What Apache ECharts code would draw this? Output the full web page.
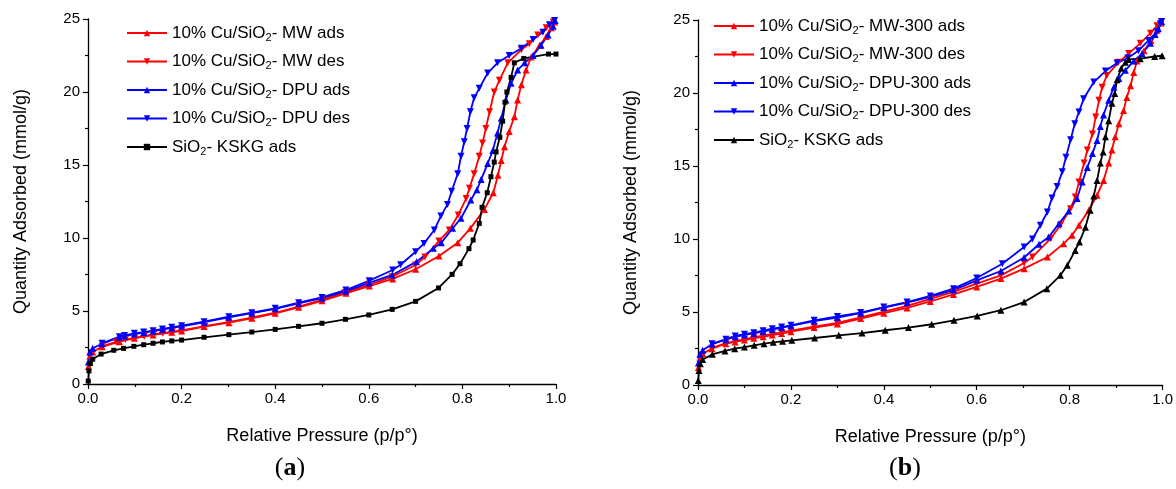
<!DOCTYPE html>
<html>
<head>
<meta charset="utf-8">
<script src="https://cdn.jsdelivr.net/npm/echarts@6/dist/echarts.min.js"></script>
<style>
  html, body { margin: 0; padding: 0; background: #fff; }
  #chart { width: 1176px; height: 489px; }
</style>
</head>
<body>
<div id="chart"></div>
<script>
// 坐标轴刻度
const xTicks = [0, 0.2, 0.4, 0.6, 0.8, 1.0]
const yTicks = [0, 5, 10, 15, 20, 25]

// (a) 图数据 [p/p°, mmol/g]
const mwAdsA = [[0.001,1.2],[0.004,1.9],[0.01,2.2],[0.03,2.55],[0.067,2.9],[0.099,3.13],[0.139,3.36],[0.179,3.54],[0.2,3.63],[0.248,3.93],[0.301,4.2],[0.35,4.5],[0.4,4.84],[0.45,5.25],[0.5,5.7],[0.551,6.21],[0.601,6.71],[0.651,7.2],[0.70,7.86],[0.75,8.77],[0.79,9.68],[0.817,10.66],[0.847,11.96],[0.866,13.1],[0.876,14.3],[0.883,15.3],[0.89,16.25],[0.9,17.3],[0.911,18.3],[0.918,19.45],[0.926,20.5],[0.936,21.5],[0.947,22.4],[0.965,23.2],[0.979,23.8],[0.99,24.4],[0.997,24.8]]
const mwDesA = [[0.994,24.8],[0.979,24.4],[0.961,23.9],[0.943,23.3],[0.926,22.9],[0.897,22.0],[0.879,20.8],[0.868,20.0],[0.858,18.65],[0.85,17.5],[0.843,16.5],[0.836,15.6],[0.825,14.4],[0.815,13.4],[0.808,12.7],[0.791,11.58],[0.772,10.55],[0.75,9.8],[0.72,8.7],[0.70,8.15],[0.65,7.35],[0.6,6.78],[0.55,6.27],[0.5,5.76],[0.45,5.3],[0.4,4.88],[0.35,4.54],[0.3,4.24],[0.25,3.96],[0.2,3.67],[0.18,3.58],[0.16,3.48],[0.14,3.39],[0.12,3.27],[0.1,3.16],[0.08,3.04],[0.06,2.88],[0.03,2.58]]
const dpuAdsA = [[0.001,1.5],[0.004,2.2],[0.01,2.45],[0.03,2.75],[0.067,3.2],[0.078,3.28],[0.099,3.42],[0.119,3.52],[0.139,3.62],[0.159,3.73],[0.179,3.84],[0.2,3.95],[0.248,4.23],[0.301,4.57],[0.35,4.85],[0.4,5.15],[0.45,5.52],[0.5,5.88],[0.551,6.36],[0.601,6.92],[0.65,7.47],[0.702,8.38],[0.738,9.29],[0.755,9.68],[0.779,10.66],[0.797,11.35],[0.818,12.6],[0.831,13.3],[0.84,14.0],[0.854,15.1],[0.865,16.0],[0.875,17.2],[0.883,18.2],[0.893,19.45],[0.904,20.6],[0.918,21.5],[0.933,22.0],[0.951,22.5],[0.968,23.2],[0.983,23.9],[0.994,24.5],[0.998,24.9]]
const dpuDesA = [[0.997,24.9],[0.986,24.6],[0.972,24.1],[0.951,23.6],[0.926,23.0],[0.9,22.5],[0.875,22.0],[0.854,21.3],[0.836,20.25],[0.825,19.6],[0.817,18.65],[0.81,17.5],[0.804,16.6],[0.797,15.6],[0.79,14.4],[0.777,13.2],[0.768,12.3],[0.754,11.5],[0.74,10.55],[0.718,9.63],[0.70,9.06],[0.668,8.17],[0.651,7.81],[0.601,7.08],[0.551,6.44],[0.5,5.93],[0.45,5.57],[0.4,5.18],[0.35,4.88],[0.301,4.61],[0.248,4.27],[0.2,3.99],[0.179,3.88],[0.159,3.77],[0.139,3.65],[0.119,3.56],[0.099,3.47],[0.078,3.33],[0.067,3.24],[0.03,2.79]]
const kskgA = [[0.0005,0.2],[0.002,0.9],[0.005,1.4],[0.01,1.7],[0.028,2.05],[0.055,2.31],[0.076,2.44],[0.098,2.58],[0.119,2.69],[0.139,2.79],[0.159,2.88],[0.179,2.95],[0.2,3.01],[0.248,3.2],[0.301,3.38],[0.35,3.56],[0.4,3.74],[0.45,3.95],[0.5,4.16],[0.55,4.43],[0.6,4.73],[0.65,5.11],[0.7,5.66],[0.749,6.58],[0.778,7.51],[0.795,8.24],[0.814,9.27],[0.823,9.86],[0.836,11.0],[0.842,12.1],[0.853,13.1],[0.861,14.2],[0.868,15.2],[0.872,15.9],[0.88,16.9],[0.886,18.0],[0.891,19.3],[0.895,20.0],[0.904,21.0],[0.911,22.0],[0.931,22.3],[0.984,22.6],[1.0,22.6]]

// (b) 图数据
const mwAdsB = [[0.001,1.2],[0.004,1.85],[0.01,2.15],[0.03,2.49],[0.06,2.83],[0.08,2.95],[0.1,3.08],[0.12,3.2],[0.14,3.3],[0.16,3.42],[0.18,3.52],[0.2,3.65],[0.25,3.93],[0.3,4.17],[0.35,4.55],[0.4,4.92],[0.45,5.28],[0.5,5.72],[0.55,6.2],[0.6,6.72],[0.652,7.29],[0.702,7.97],[0.752,8.77],[0.787,9.68],[0.805,10.25],[0.82,10.94],[0.841,11.97],[0.859,13.0],[0.873,14.0],[0.884,15.2],[0.891,16.1],[0.898,17.0],[0.906,17.9],[0.916,18.8],[0.923,19.7],[0.931,20.5],[0.938,21.4],[0.945,22.2],[0.96,22.9],[0.975,23.6],[0.988,24.3],[0.997,24.8]]
const mwDesB = [[0.998,24.9],[0.988,24.6],[0.974,24.1],[0.952,23.4],[0.927,22.7],[0.905,22.1],[0.88,21.2],[0.87,20.4],[0.863,19.5],[0.856,18.35],[0.849,17.2],[0.838,16.1],[0.831,15.2],[0.82,13.9],[0.812,12.88],[0.802,12.08],[0.78,10.94],[0.759,10.03],[0.72,8.77],[0.702,8.36],[0.652,7.51],[0.6,6.95],[0.55,6.38],[0.5,5.9],[0.45,5.42],[0.4,5.02],[0.35,4.64],[0.3,4.25],[0.25,4.0],[0.2,3.72],[0.18,3.6],[0.16,3.5],[0.14,3.38],[0.12,3.27],[0.1,3.14],[0.08,3.0],[0.06,2.87],[0.03,2.52]]
const dpuAdsB = [[0.001,1.5],[0.004,2.1],[0.01,2.38],[0.03,2.79],[0.06,3.1],[0.08,3.3],[0.1,3.43],[0.12,3.53],[0.14,3.66],[0.16,3.8],[0.18,3.93],[0.2,4.05],[0.25,4.38],[0.3,4.62],[0.35,4.92],[0.4,5.3],[0.45,5.64],[0.5,6.04],[0.55,6.5],[0.6,7.17],[0.652,7.81],[0.702,8.73],[0.734,9.64],[0.755,10.14],[0.777,11.05],[0.798,11.92],[0.816,12.77],[0.827,13.9],[0.838,14.9],[0.849,15.85],[0.859,16.75],[0.866,17.7],[0.873,18.5],[0.884,19.5],[0.895,20.4],[0.906,21.0],[0.92,21.55],[0.938,22.2],[0.956,22.7],[0.974,23.4],[0.984,24.0],[0.991,24.4],[0.998,24.9]]
const dpuDesB = [[0.998,24.9],[0.995,24.75],[0.988,24.2],[0.97,23.6],[0.948,22.9],[0.925,22.4],[0.902,22.05],[0.877,21.5],[0.852,20.75],[0.83,19.6],[0.82,18.7],[0.811,17.9],[0.802,16.8],[0.792,15.6],[0.784,14.6],[0.773,13.6],[0.762,12.8],[0.752,11.85],[0.737,10.94],[0.72,10.0],[0.702,9.45],[0.655,8.31],[0.6,7.33],[0.55,6.6],[0.5,6.1],[0.45,5.68],[0.4,5.34],[0.35,4.96],[0.3,4.7],[0.25,4.43],[0.2,4.09],[0.18,3.97],[0.16,3.86],[0.14,3.72],[0.12,3.58],[0.1,3.48],[0.08,3.36],[0.06,3.14],[0.03,2.82]]
const kskgB = [[0.0005,0.3],[0.002,1.0],[0.005,1.45],[0.01,1.75],[0.031,2.1],[0.058,2.33],[0.079,2.49],[0.1,2.6],[0.121,2.72],[0.142,2.83],[0.162,2.92],[0.182,2.99],[0.202,3.06],[0.251,3.22],[0.303,3.4],[0.353,3.56],[0.403,3.75],[0.453,3.93],[0.503,4.16],[0.551,4.43],[0.601,4.73],[0.652,5.12],[0.702,5.68],[0.751,6.6],[0.78,7.51],[0.795,8.2],[0.812,9.22],[0.821,9.8],[0.834,10.8],[0.844,11.97],[0.852,12.95],[0.859,14.0],[0.866,15.2],[0.872,15.96],[0.877,17.0],[0.884,18.1],[0.891,19.3],[0.897,19.96],[0.902,20.9],[0.911,21.7],[0.92,22.1],[0.927,22.3],[0.952,22.35],[0.983,22.5],[0.999,22.55]]

// 图例名称
const namesA = ['10% Cu/SiO2- MW ads', '10% Cu/SiO2- MW des', '10% Cu/SiO2- DPU ads', '10% Cu/SiO2- DPU des', 'SiO2- KSKG ads']
const namesB = ['10% Cu/SiO2- MW-300 ads', '10% Cu/SiO2- MW-300 des', '10% Cu/SiO2- DPU-300 ads', '10% Cu/SiO2- DPU-300 des', 'SiO2- KSKG ads ']

const font = 'Liberation Sans, Arial, sans-serif'
const serif = 'Liberation Serif, serif'
const RED = '#ff0000'
const BLUE = '#0000ff'
const BLACK = '#000000'

function makeSeries(name, data, color, symbol, rotate, idx) {
  return {
    name: name,
    type: 'line',
    xAxisIndex: idx,
    yAxisIndex: idx,
    data: data,
    symbol: symbol,
    symbolRotate: rotate,
    symbolSize: symbol === 'rect' ? 5 : 7,
    showAllSymbol: true,
    lineStyle: { color: color, width: 1.8 },
    itemStyle: { color: color },
    animation: false
  }
}

function makeXAxis(idx) {
  return {
    gridIndex: idx,
    type: 'value',
    min: xTicks[0],
    max: xTicks[xTicks.length - 1],
    interval: 0.2,
    name: 'Relative Pressure (p/p°)',
    nameLocation: 'middle',
    nameGap: 43,
    nameTextStyle: { color: '#000', fontSize: 18, fontFamily: font },
    axisLine: { onZero: false, lineStyle: { color: '#000', width: 1.3 } },
    axisTick: { length: 5, lineStyle: { color: '#000', width: 1.2 } },
    minorTick: { show: true, splitNumber: 2, length: 3, lineStyle: { color: '#000', width: 1.2 } },
    splitLine: { show: false },
    axisLabel: { color: '#000', fontSize: 15, fontFamily: font, margin: 7, formatter: v => v.toFixed(1) }
  }
}

function makeYAxis(idx) {
  return {
    gridIndex: idx,
    type: 'value',
    min: yTicks[0],
    max: yTicks[yTicks.length - 1],
    interval: 5,
    name: 'Quantity Adsorbed (mmol/g)',
    nameLocation: 'middle',
    nameGap: 58,
    nameTextStyle: { color: '#000', fontSize: 18, fontFamily: font },
    axisLine: { show: true, onZero: false, lineStyle: { color: '#000', width: 1.3 } },
    axisTick: { show: true, length: 5, lineStyle: { color: '#000', width: 1.2 } },
    minorTick: { show: true, splitNumber: 2, length: 3, lineStyle: { color: '#000', width: 1.2 } },
    splitLine: { show: false },
    axisLabel: { color: '#000', fontSize: 15, fontFamily: font, margin: 8 }
  }
}

function makeLegend(names, left, top) {
  return {
    data: names,
    orient: 'vertical',
    left: left,
    top: top,
    itemWidth: 40,
    itemHeight: 8,
    itemGap: 8.5,
    padding: 0,
    formatter: name => name.trim().replace('SiO2', 'SiO{sub|2}'),
    textStyle: {
      color: '#000',
      fontSize: 17,
      fontFamily: font,
      lineHeight: 20,
      rich: {
        sub: { fontSize: 11, fontFamily: font, color: '#000', lineHeight: 11, verticalAlign: 'bottom' }
      }
    }
  }
}

function makeLabel(letter, x) {
  return {
    text: '({b|' + letter + '})',
    left: x,
    top: 455,
    textAlign: 'center',
    padding: 0,
    textStyle: {
      fontFamily: serif, fontSize: 26, fontWeight: 'normal', color: '#000',
      rich: { b: { fontFamily: serif, fontSize: 26, fontWeight: 'bold', color: '#000' } }
    }
  }
}

const myChart = echarts.init(document.querySelector('#chart'))

const option = {
  backgroundColor: '#fff',
  grid: [
    { left: 88, top: 19, width: 468, height: 365 },
    { left: 698, top: 20, width: 466, height: 365 }
  ],
  xAxis: [makeXAxis(0), makeXAxis(1)],
  yAxis: [makeYAxis(0), makeYAxis(1)],
  legend: [makeLegend(namesA, 126, 23), makeLegend(namesB, 713, 16)],
  title: [makeLabel('a', 290), makeLabel('b', 905)],
  series: [
    makeSeries(namesA[0], mwAdsA, RED, 'triangle', 0, 0),
    makeSeries(namesA[1], mwDesA, RED, 'triangle', 180, 0),
    makeSeries(namesA[2], dpuAdsA, BLUE, 'triangle', 0, 0),
    makeSeries(namesA[3], dpuDesA, BLUE, 'triangle', 180, 0),
    makeSeries(namesA[4], kskgA, BLACK, 'rect', 0, 0),
    makeSeries(namesB[0], mwAdsB, RED, 'triangle', 0, 1),
    makeSeries(namesB[1], mwDesB, RED, 'triangle', 180, 1),
    makeSeries(namesB[2], dpuAdsB, BLUE, 'triangle', 0, 1),
    makeSeries(namesB[3], dpuDesB, BLUE, 'triangle', 180, 1),
    makeSeries(namesB[4], kskgB, BLACK, 'triangle', 0, 1)
  ]
}

myChart.setOption(option)
</script>
</body>
</html>
